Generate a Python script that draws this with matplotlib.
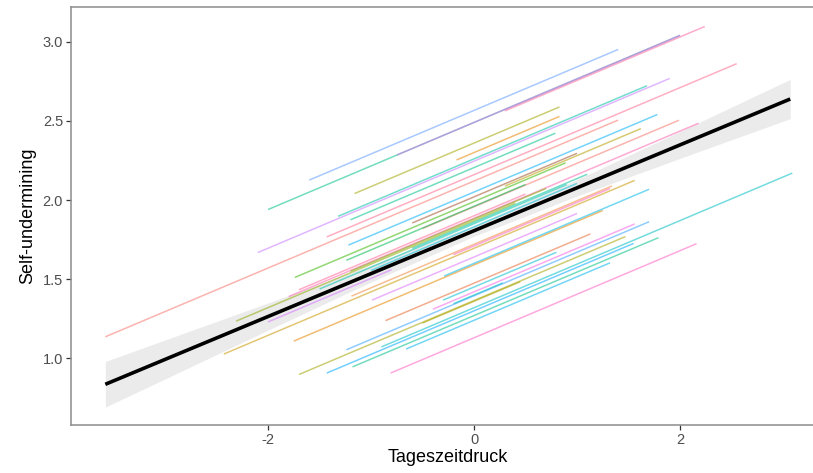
import matplotlib
matplotlib.use('Agg')
import matplotlib.pyplot as plt

plt.rcParams['font.family'] = ['Liberation Sans', 'DejaVu Sans']

# person-level lines (start x, end x, start y, end y)
x_start = [-1.60, -2.00, -0.75, 0.30, -1.43, -2.10, -1.32, -1.16, -0.17, -1.20,
           -3.58, -1.22, -0.60, 0.30, -0.50, -1.80, -1.74, -1.24, -0.90, -1.24,
           -0.40, -1.70, -1.18, -1.43, -0.66, -0.81, -0.20, -0.50, -0.86, -1.75,
           -2.43, -1.19, -0.99, -0.29, -0.20, -2.31, -1.50, -1.00, -1.70, -2.00,
           -1.20, -0.60, -0.30]
x_end = [1.40, 2.00, 2.00, 2.24, 2.55, 1.90, 1.68, 0.83, 0.83, 0.79,
         1.40, 1.78, 1.00, 1.62, 1.99, 2.18, 0.89, 0.50, 3.09, 1.70,
         1.56, 1.47, 1.79, 1.55, 1.32, 2.16, 0.28, 0.45, 1.13, 1.25,
         1.56, 1.34, 1.00, 1.70, 1.32, 0.40, 0.90, 1.00, 0.50, -0.80,
         0.70, 1.10, 0.80]
y_start = [2.126, 1.940, 2.284, 2.563, 1.767, 1.668, 1.897, 2.041, 2.253, 1.875,
           1.136, 1.715, 1.855, 2.088, 1.820, 1.390, 1.511, 1.619, 1.072, 1.054,
           1.310, 0.898, 0.946, 0.907, 1.059, 0.907, 1.345, 1.223, 1.238, 1.109,
           1.027, 1.393, 1.368, 1.520, 1.655, 1.235, 1.438, 1.555, 1.433, 1.230,
           1.550, 1.695, 1.368]
y_end = [2.951, 3.040, 3.040, 3.096, 2.861, 2.768, 2.722, 2.588, 2.528, 2.422,
         2.505, 2.540, 2.295, 2.451, 2.504, 2.485, 2.235, 2.098, 2.170, 1.863,
         1.849, 1.769, 1.762, 1.726, 1.603, 1.724, 1.477, 1.484, 1.786, 1.934,
         2.124, 2.089, 1.915, 2.068, 2.073, 1.980, 2.098, 2.105, 2.038, 1.560,
         2.073, 2.163, 1.670]
line_colors = ['#619CFF', '#00C08B', '#E76BF3', '#FF67A4', '#FF6C91', '#C77CFF',
               '#00C1A3', '#A3A500', '#E58700', '#00C08B', '#F8766D', '#00B0F6',
               '#A0522D', '#B79F00', '#F8766D', '#FF64B0', '#39B600', '#00BB4E',
               '#00BFC4', '#35A2FF', '#F564E3', '#A3A500', '#00C08B', '#00A9FF',
               '#00B4EF', '#FF61C3', '#00BFC4', '#ABA300', '#E86A33', '#E58700',
               '#C99800', '#EE8A3A', '#DC71FA', '#00B8E7', '#FF62BC', '#8FAA00',
               '#00C1AA', '#00BCD8', '#FF6A98', '#D575FE', '#7CAE00', '#00C19A',
               '#00BDD0']

# overall fixed effect line and its confidence band
fit_x = [-3.58, 3.07]
fit_y = [0.836, 2.638]
band_x = [-3.58, -3.0, -2.0, -1.0, 0.0, 1.0, 2.0, 3.07]
band_lo = [0.692, 0.870, 1.178, 1.482, 1.771, 2.025, 2.263, 2.514]
band_hi = [0.980, 1.116, 1.350, 1.588, 1.841, 2.129, 2.433, 2.762]

xticks = [-2, 0, 2]
yticks = [1.0, 1.5, 2.0, 2.5, 3.0]

fig = plt.figure(figsize=(8.13, 4.73), dpi=100)
ax = fig.add_axes([70.7 / 813, 1 - 425 / 473, (824 - 70.7) / 813, (425 - 7.5) / 473])

ax.fill_between(band_x, band_lo, band_hi, color='#EBEBEB', lw=0, zorder=1)
for xs, xe, ys, ye, c in zip(x_start, x_end, y_start, y_end, line_colors):
    ax.plot([xs, xe], [ys, ye], color=c, alpha=0.55, lw=1.1,
            solid_capstyle='butt', zorder=2)
ax.plot(fit_x, fit_y, color='black', lw=2.6, solid_capstyle='butt', zorder=3)

ax.set_xlim(-3.916, 3.398)
ax.set_ylim(0.579, 3.216)
ax.set_xticks(xticks)
ax.set_xticklabels([str(t) for t in xticks])
ax.set_yticks(yticks)
ax.set_yticklabels(['%.1f' % t for t in yticks])

for side in ['left', 'bottom', 'top']:
    ax.spines[side].set_color('#8C8C8C')
    ax.spines[side].set_linewidth(1.1)
ax.spines['right'].set_visible(False)
ax.tick_params(colors='#333333', labelcolor='#4D4D4D', labelsize=10.5,
               length=3.5, width=0.9, pad=2)

ax.set_xlabel('Tageszeitdruck', fontsize=13, color='black', labelpad=2)
ax.set_ylabel('Self-undermining', fontsize=13, color='black', labelpad=5)

fig.savefig('out.png', dpi=100)
